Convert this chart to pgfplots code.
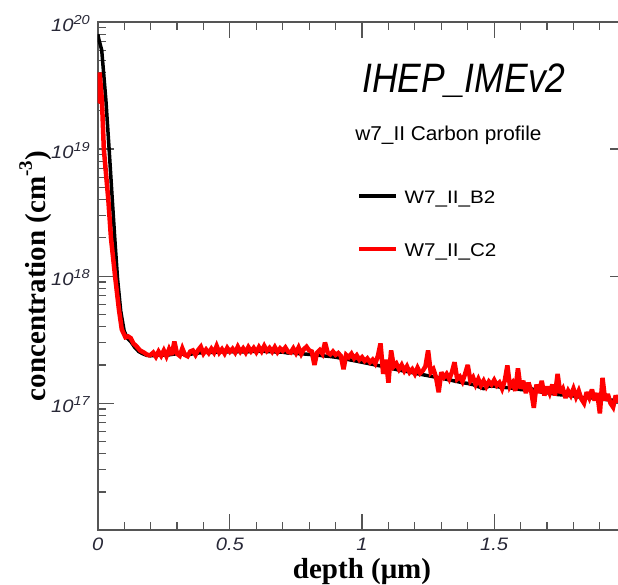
\documentclass[border=0pt]{standalone}
\usepackage{pgfplots}
\pgfplotsset{compat=1.18}
\usepackage{pgfplotstable}
\usepackage{fontspec}
\setmainfont{Liberation Sans}
\newfontfamily\serifb{Liberation Serif}
\newfontfamily\tickfont[FakeStretch=1.12]{Liberation Sans}
\definecolor{axgray}{RGB}{85,85,85}
\definecolor{tickcol}{RGB}{40,40,55}
\definecolor{myred}{RGB}{255,0,0}
\newcommand{\ytl}[1]{\tickfont\fontsize{18}{18}\selectfont\itshape 10\raisebox{6.7pt}{\fontsize{13}{13}\selectfont #1}}

\pgfplotstableread{
depth conc
0.000 8.0e19
0.005 7.2e19
0.015 6.0e19
0.031 2.4e19
0.043 1.0e19
0.055 4.0e18
0.065 1.9e18
0.075 9.5e17
0.087 5.3e17
0.100 3.7e17
0.112 3.25e17
0.125 3.05e17
0.140 2.75e17
0.155 2.55e17
0.170 2.45e17
0.185 2.38e17
0.200 2.36e17
0.22 2.38e17
0.24 2.40e17
0.26 2.38e17
0.28 2.42e17
0.30 2.45e17
0.32 2.43e17
0.34 2.40e17
0.36 2.45e17
0.38 2.48e17
0.40 2.50e17
0.42 2.52e17
0.44 2.50e17
0.46 2.54e17
0.48 2.52e17
0.50 2.55e17
0.52 2.53e17
0.54 2.55e17
0.56 2.52e17
0.58 2.56e17
0.60 2.55e17
0.62 2.57e17
0.64 2.55e17
0.66 2.54e17
0.68 2.52e17
0.70 2.52e17
0.72 2.48e17
0.74 2.50e17
0.76 2.45e17
0.78 2.44e17
0.80 2.42e17
0.82 2.40e17
0.84 2.38e17
0.86 2.35e17
0.88 2.33e17
0.90 2.30e17
0.92 2.26e17
0.94 2.22e17
0.96 2.18e17
0.98 2.14e17
1.00 2.10e17
1.02 2.06e17
1.04 2.02e17
1.06 1.98e17
1.08 1.95e17
1.10 1.90e17
1.12 1.86e17
1.14 1.82e17
1.16 1.79e17
1.18 1.76e17
1.20 1.72e17
1.22 1.69e17
1.24 1.66e17
1.26 1.63e17
1.28 1.60e17
1.30 1.58e17
1.32 1.54e17
1.34 1.51e17
1.36 1.48e17
1.38 1.45e17
1.40 1.43e17
1.42 1.40e17
1.44 1.35e17
1.46 1.30e17
1.48 1.36e17
1.50 1.36e17
1.52 1.34e17
1.54 1.33e17
1.56 1.32e17
1.58 1.30e17
1.60 1.28e17
1.62 1.27e17
1.64 1.30e17
1.66 1.26e17
1.68 1.22e17
1.70 1.21e17
1.72 1.19e17
1.74 1.17e17
1.76 1.16e17
1.78 1.15e17
1.80 1.14e17
1.82 1.12e17
1.84 1.10e17
1.86 1.11e17
1.88 1.09e17
1.90 1.08e17
1.92 1.07e17
1.94 1.06e17
1.96 1.05e17
1.98 1.04e17
2.00 1.03e17
}\blackdata

\pgfplotstableread{
depth conc
0.000 2.3e19
0.004 2.4e19
0.007 4.0e19
0.016 2.4e19
0.023 1.0e19
0.040 4.0e18
0.050 2.0e18
0.066 9.8e17
0.080 5.5e17
0.091 3.8e17
0.105 3.3e17
0.115 3.35e17
0.125 3.25e17
0.135 2.95e17
0.147 2.8e17
0.160 2.6e17
0.175 2.5e17
0.185 2.42e17
0.195 2.38e17
0.20 2.40e17
0.21 2.50e17
0.22 2.32e17
0.23 2.55e17
0.24 2.36e17
0.25 2.60e17
0.26 2.34e17
0.27 2.66e17
0.28 2.40e17
0.29 3.05e17
0.30 2.45e17
0.31 2.36e17
0.32 2.70e17
0.33 2.40e17
0.34 2.34e17
0.35 2.55e17
0.36 2.60e17
0.37 2.40e17
0.38 2.62e17
0.39 2.78e17
0.40 2.46e17
0.41 2.64e17
0.42 2.48e17
0.43 2.68e17
0.44 2.50e17
0.45 2.82e17
0.46 2.50e17
0.47 2.66e17
0.48 2.46e17
0.49 2.72e17
0.50 2.54e17
0.51 2.68e17
0.52 2.50e17
0.53 2.78e17
0.54 2.54e17
0.55 2.70e17
0.56 2.50e17
0.57 2.76e17
0.58 2.56e17
0.59 2.72e17
0.60 2.52e17
0.61 2.76e17
0.62 2.56e17
0.63 2.82e17
0.64 2.58e17
0.65 2.72e17
0.66 2.54e17
0.67 2.76e17
0.68 2.52e17
0.69 2.70e17
0.70 2.58e17
0.71 2.74e17
0.72 2.54e17
0.73 2.50e17
0.74 2.70e17
0.75 2.48e17
0.76 2.74e17
0.77 2.44e17
0.78 2.66e17
0.79 2.78e17
0.80 2.60e17
0.81 2.55e17
0.82 2.00e17
0.83 2.50e17
0.84 2.62e17
0.85 2.45e17
0.86 3.00e17
0.87 2.50e17
0.88 2.42e17
0.89 2.55e17
0.90 2.40e17
0.91 2.48e17
0.92 2.35e17
0.93 1.85e17
0.94 2.40e17
0.95 2.30e17
0.96 2.45e17
0.97 2.25e17
0.98 2.38e17
0.99 2.20e17
1.00 2.30e17
1.01 2.15e17
1.02 2.25e17
1.03 2.10e17
1.04 2.20e17
1.05 2.05e17
1.06 2.35e17
1.07 2.95e17
1.08 1.70e17
1.09 2.20e17
1.10 1.45e17
1.11 2.60e17
1.12 1.95e17
1.13 2.05e17
1.14 1.85e17
1.15 2.00e17
1.16 1.80e17
1.17 1.95e17
1.18 1.75e17
1.19 1.85e17
1.20 1.70e17
1.21 1.90e17
1.22 1.72e17
1.23 1.80e17
1.24 1.95e17
1.25 2.60e17
1.26 1.75e17
1.27 1.85e17
1.28 1.60e17
1.29 1.22e17
1.30 1.75e17
1.31 1.60e17
1.32 1.70e17
1.33 1.55e17
1.34 1.75e17
1.35 2.10e17
1.36 1.55e17
1.37 1.62e17
1.38 1.48e17
1.39 1.70e17
1.40 2.00e17
1.41 1.50e17
1.42 1.60e17
1.43 1.40e17
1.44 1.55e17
1.45 1.38e17
1.46 1.50e17
1.47 1.35e17
1.48 1.48e17
1.49 1.40e17
1.50 1.52e17
1.51 1.38e17
1.52 1.45e17
1.53 1.30e17
1.54 1.50e17
1.55 1.98e17
1.56 1.35e17
1.57 1.45e17
1.58 1.25e17
1.59 1.88e17
1.60 1.30e17
1.61 1.50e17
1.62 1.20e17
1.63 1.45e17
1.64 1.25e17
1.65 0.92e17
1.66 1.40e17
1.67 1.20e17
1.68 1.50e17
1.69 1.15e17
1.70 1.35e17
1.71 1.20e17
1.72 1.40e17
1.73 1.15e17
1.74 1.70e17
1.75 1.20e17
1.76 1.30e17
1.77 1.10e17
1.78 1.25e17
1.79 1.15e17
1.80 1.30e17
1.81 1.12e17
1.82 1.25e17
1.83 1.08e17
1.84 1.00e17
1.85 1.22e17
1.86 1.10e17
1.87 1.28e17
1.88 1.05e17
1.89 1.20e17
1.90 0.83e17
1.91 1.58e17
1.92 1.05e17
1.93 1.18e17
1.94 1.00e17
1.95 0.93e17
1.96 1.15e17
1.97 1.02e17
1.98 1.20e17
1.99 0.98e17
2.00 1.10e17
}\reddata

\begin{document}
\begin{tikzpicture}
\begin{axis}[
  name=ax,
  scale only axis,
  width=528.3pt, height=508pt,
  xmin=0, xmax=2,
  ymode=log, ymin=1e16, ymax=1e20,
  xtick={0,0.5,1,1.5,2},
  xticklabels={0,0.5,1,1.5,{}},
  minor x tick num=4,
  ytick={1e16,1e17,1e18,1e19,1e20},
  yticklabels={{},\ytl{17},\ytl{18},\ytl{19},\ytl{20}},
  minor ytick={2e16,3e16,4e16,5e16,6e16,7e16,8e16,9e16,
               2e17,3e17,4e17,5e17,6e17,7e17,8e17,9e17,
               2e18,3e18,4e18,5e18,6e18,7e18,8e18,9e18,
               2e19,3e19,4e19,5e19,6e19,7e19,8e19,9e19},
  xtick pos=both, ytick pos=both,
  tick align=inside,
  major tick length=16pt, minor tick length=8pt,
  axis line style={axgray, line width=1.6pt},
  every tick/.style={axgray, line width=1.2pt},
  xticklabel style={font=\tickfont\fontsize{18}{18}\selectfont\itshape, text=tickcol, anchor=base, inner sep=0pt, yshift=-20pt},
  yticklabel style={text=tickcol, anchor=base east, inner sep=0pt, xshift=-7.7pt, yshift=-9.5pt},
  xlabel={\serifb\bfseries\fontsize{29}{29}\selectfont depth (μm)},
  xlabel style={at={(axis description cs:0.5,-0.0945)}, anchor=base, inner sep=0pt},
  ylabel={\serifb\bfseries\fontsize{29}{29}\selectfont concentration (cm\raisebox{0.45em}{\fontsize{19}{19}\selectfont -3})},
  ylabel style={at={(axis description cs:-0.0998,0.5)}, anchor=base, inner sep=0pt},
  legend style={at={(axis description cs:0.4903,0.6679)}, anchor=north west, draw=none, fill=none,
    inner sep=0pt, outer sep=0pt, row sep=0pt, column sep=0pt,
    nodes={anchor=base west, inner sep=0pt, text height=12.6pt, text depth=40.1pt}},
  legend image code/.code={\draw[#1] (0pt,7.2pt) -- (36.6pt,7.2pt); \path (43.3pt,7.2pt);},
]
\addplot[black, line width=3.5pt, line join=round] table[x=depth, y=conc] {\blackdata};
\addlegendentry{\resizebox{90.7pt}{12.6pt}{W7\_II\_B2}}
\addplot[myred, line width=4.5pt, miter limit=3] table[x=depth, y=conc] {\reddata};
\addlegendentry{\resizebox{91.7pt}{12.9pt}{W7\_II\_C2}}
\end{axis}
\node[anchor=base west, inner sep=0pt] at ([shift={(264.3pt,437.3pt)}]ax.south west)
  {\resizebox{203pt}{28.7pt}{\itshape IHEP\_IMEv2}};
\node[anchor=base west, inner sep=0pt] at ([shift={(257.3pt,390pt)}]ax.south west)
  {\resizebox{186pt}{14.5pt}{w7\_II Carbon profile}};
\pgfresetboundingbox
\useasboundingbox ([shift={(-97.7pt,-54pt)}]ax.south west) rectangle ([shift={(-8.3pt,22pt)}]ax.north east);
\end{tikzpicture}
\end{document}
